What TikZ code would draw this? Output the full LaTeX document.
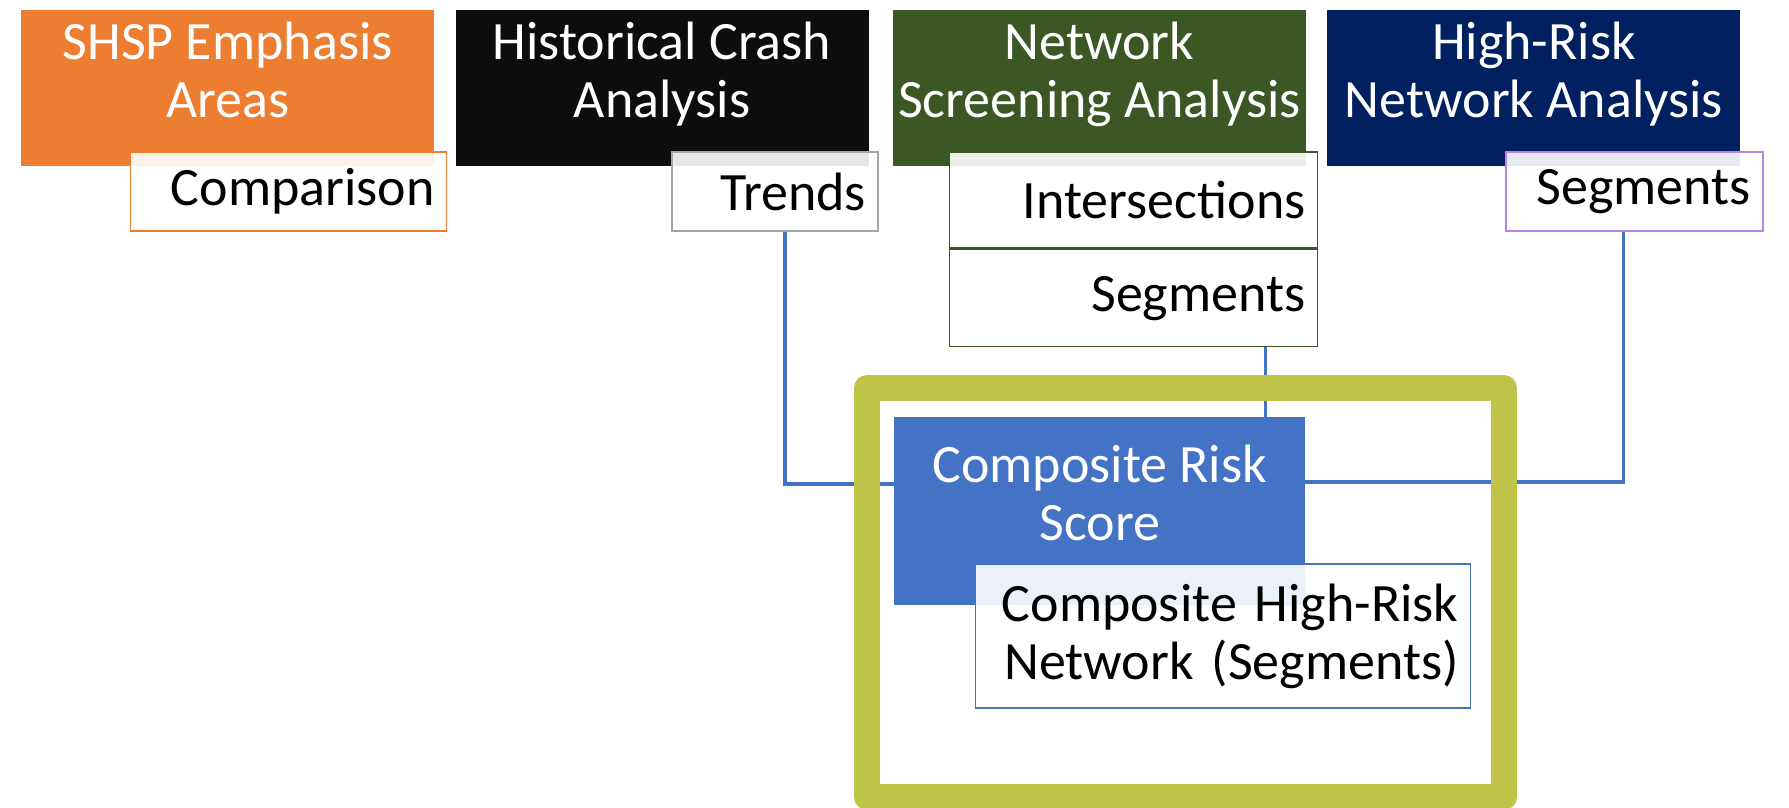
\documentclass[tikz,border=0pt]{standalone}
\usepackage{fontspec}
\setmainfont{Carlito}
\usetikzlibrary{positioning}
\definecolor{shsporange}{HTML}{ED7D31}
\definecolor{crashblack}{HTML}{0D0D0D}
\definecolor{screengreen}{HTML}{3B5724}
\definecolor{hrnnavy}{HTML}{002060}
\definecolor{scoreblue}{HTML}{4472C4}
\definecolor{trendgray}{HTML}{A5A5A5}
\definecolor{segpurple}{HTML}{B585E6}
\definecolor{frameolive}{HTML}{C0C448}
\begin{document}
\begin{tikzpicture}[x=1pt,y=-1pt,node distance=21pt,
    every node/.style={inner sep=0pt,font=\fontsize{54}{58}\selectfont},
    header/.style={rectangle,minimum width=413pt,minimum height=156pt},
    headtext/.style={text=white,align=center,anchor=base},
    subbox/.style={rectangle,draw=#1,line width=1.5pt,fill=white,fill opacity=0.9,
      text opacity=1,inner xsep=12pt,align=right,anchor=north east},
    link/.style={draw=scoreblue,line width=3.5pt},
    frame/.style={draw=frameolive,line width=26pt,line join=round}]
  \useasboundingbox (0,0) rectangle (1789,807);

  % top row
  \node[header,fill=shsporange,anchor=north west] (shsp) at (21,10) {};
  \node[header,fill=crashblack,right=of shsp] (crash) {};
  \node[header,fill=screengreen,right=24pt of crash] (screen) {};
  \node[header,fill=hrnnavy,right=of screen] (hrn) {};
  \node[headtext] (shsp-t) at ([yshift=-107pt]shsp.north) {SHSP Emphasis\\Areas};
  \node[headtext] (crash-t) at ([yshift=-107pt]crash.north) {Historical Crash\\Analysis};
  \node[headtext] (screen-t) at ([yshift=-107pt]screen.north) {Network\\Screening Analysis};
  \node[headtext] (hrn-t) at ([yshift=-107pt]hrn.north) {High-Risk\\Network Analysis};

  % sub boxes
  \node[subbox=shsporange,text width=292pt,minimum height=79pt]
    (comp) at ([xshift=13pt,yshift=15pt]shsp.south east) {Comparison};
  \node[subbox=trendgray,text width=182pt,minimum height=79pt]
    (trends) at ([xshift=10pt,yshift=15pt]crash.south east) {Trends};
  \node[subbox=screengreen,text width=344pt,minimum height=96pt]
    (inter) at ([xshift=12pt,yshift=15pt]screen.south east) {Intersections};
  \node[subbox=screengreen,text width=344pt,minimum height=97pt,below=0pt of inter]
    (seg) {Segments};
  \node[subbox=segpurple,text width=233pt,minimum height=79pt]
    (hrnseg) at ([xshift=23pt,yshift=15pt]hrn.south east) {Segments};

  % result
  \node[rectangle,fill=scoreblue,minimum width=411pt,minimum height=188pt,anchor=north west]
    (score) at (894,417) {};
  \node[headtext] (score-t) at ([yshift=-123pt]score.north) {Composite Risk\\Score};
  \node[subbox=scoreblue,text width=471pt,minimum height=144pt]
    (chr) at ([xshift=166pt,yshift=42pt]score.south east) {Composite High-Risk\\Network (Segments)};

  % links
  \draw[link] ([xshift=10pt]trends.south) |- ([yshift=27pt]score.west);
  \draw[link] ([xshift=-11pt]hrnseg.south) |- ([yshift=29pt]score.east);
  \draw[link] ([xshift=132pt]seg.south) -- ([xshift=132pt]seg.south |- score.north);

  \draw[frame] (867,388) rectangle (1504,797);
\end{tikzpicture}
\end{document}
